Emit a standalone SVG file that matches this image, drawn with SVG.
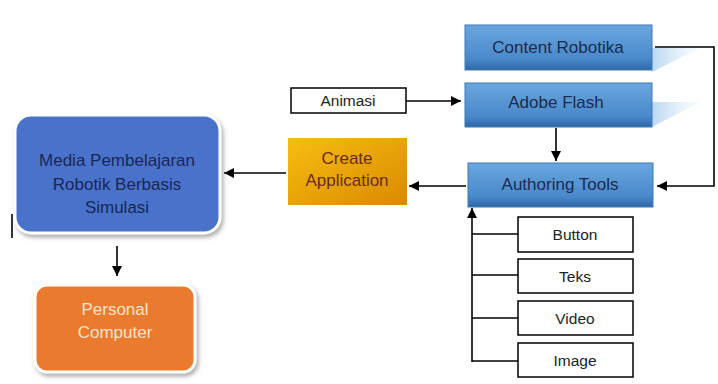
<svg xmlns="http://www.w3.org/2000/svg" width="718" height="384" viewBox="0 0 718 384">
<defs>
<linearGradient id="blue" x1="0" y1="0" x2="0" y2="1">
<stop offset="0" stop-color="#6aa6de"/>
<stop offset="0.75" stop-color="#4a8acb"/>
<stop offset="1" stop-color="#2c67a8"/>
</linearGradient>
<linearGradient id="gold" x1="0" y1="0" x2="1" y2="1">
<stop offset="0" stop-color="#f7bd10"/>
<stop offset="1" stop-color="#d98a00"/>
</linearGradient>
<linearGradient id="refl" x1="0" y1="0" x2="1" y2="0">
<stop offset="0" stop-color="#a9cdee" stop-opacity="0.8"/>
<stop offset="1" stop-color="#dcebf8" stop-opacity="0.2"/>
</linearGradient>
<filter id="sh" x="-10%" y="-10%" width="130%" height="130%">
<feDropShadow dx="2" dy="3" stdDeviation="2" flood-color="#777" flood-opacity="0.6"/>
</filter>
<marker id="ah" viewBox="0 0 10 10" refX="10" refY="5" markerWidth="10" markerHeight="10" markerUnits="userSpaceOnUse" orient="auto">
<path d="M0,0 L10,5 L0,10 z" fill="#000"/>
</marker>
</defs>
<style>
text{font-family:"Liberation Sans",Arial,sans-serif;text-anchor:middle;}
.main{font-size:17px;}
.small{font-size:15.5px;fill:#222;}
.bluet{fill:#1b2b4f;}
.wbox{fill:#fff;stroke:#000;stroke-width:1.5;}
.conn{stroke:#000;stroke-width:1.6;fill:none;}
.bbox{fill:url(#blue);stroke:#3f78b5;stroke-width:1;}
</style>
<rect width="718" height="384" fill="#fff"/>
<!-- reflections -->
<polygon points="652,48 700,48 652,72" fill="url(#refl)"/>
<polygon points="652,102 700,102 652,127" fill="url(#refl)"/>
<g id="connectors">
<line class="conn" x1="117" y1="246" x2="117" y2="276" marker-end="url(#ah)"/>
<line class="conn" x1="286" y1="173" x2="224" y2="173" marker-end="url(#ah)"/>
<line class="conn" x1="406" y1="101" x2="461" y2="101" marker-end="url(#ah)"/>
<line class="conn" x1="466" y1="186" x2="409" y2="186" marker-end="url(#ah)"/>
<line class="conn" x1="556" y1="128" x2="556" y2="161" marker-end="url(#ah)"/>
<polyline class="conn" points="655,47 714,47 714,186 657,186" marker-end="url(#ah)"/>
<line class="conn" x1="472" y1="362" x2="472" y2="208" marker-end="url(#ah)"/>
<line class="conn" x1="472" y1="234" x2="518" y2="234"/>
<line class="conn" x1="472" y1="275" x2="518" y2="275"/>
<line class="conn" x1="472" y1="318" x2="518" y2="318"/>
<line class="conn" x1="472" y1="361" x2="518" y2="361"/>
<line class="conn" x1="12" y1="214" x2="12" y2="238"/>
</g>
<g id="media">
<rect x="15" y="115" width="205" height="118" rx="16" fill="#4a72cb" stroke="#fff" stroke-width="3" filter="url(#sh)"/>
<text class="main" fill="#1a2755"><tspan x="117" y="166">Media Pembelajaran</tspan><tspan x="117" y="190">Robotik Berbasis</tspan><tspan x="117" y="213">Simulasi</tspan></text>
</g>
<g id="personal">
<rect x="35" y="285" width="160" height="87" rx="12" fill="#e97a2e" stroke="#fff" stroke-width="3" filter="url(#sh)"/>
<text class="main" fill="#fbe3cc"><tspan x="115" y="315">Personal</tspan><tspan x="115" y="338">Computer</tspan></text>
</g>
<g id="create">
<rect x="288" y="138" width="119" height="67" fill="url(#gold)"/>
<text class="main" fill="#6a2a12"><tspan x="347" y="164">Create</tspan><tspan x="347" y="186">Application</tspan></text>
</g>
<g id="animasi">
<rect class="wbox" x="291" y="88" width="115" height="25"/>
<text class="small" x="348" y="106">Animasi</text>
</g>
<g id="content">
<rect class="bbox" x="465" y="25" width="187" height="45"/>
<text class="main bluet" x="558" y="53">Content Robotika</text>
</g>
<g id="adobe">
<rect class="bbox" x="465" y="83" width="187" height="44"/>
<text class="main bluet" x="556" y="108">Adobe Flash</text>
</g>
<g id="authoring">
<rect class="bbox" x="468" y="163" width="185" height="44"/>
<text class="main bluet" x="560" y="190">Authoring Tools</text>
</g>
<g id="button">
<rect class="wbox" x="518" y="217" width="115" height="35"/>
<text class="small" x="575" y="240">Button</text>
</g>
<g id="teks">
<rect class="wbox" x="518" y="259" width="115" height="34"/>
<text class="small" x="575" y="282">Teks</text>
</g>
<g id="video">
<rect class="wbox" x="518" y="301" width="115" height="34"/>
<text class="small" x="575" y="324">Video</text>
</g>
<g id="image">
<rect class="wbox" x="518" y="343" width="115" height="34"/>
<text class="small" x="575" y="366">Image</text>
</g>
</svg>
